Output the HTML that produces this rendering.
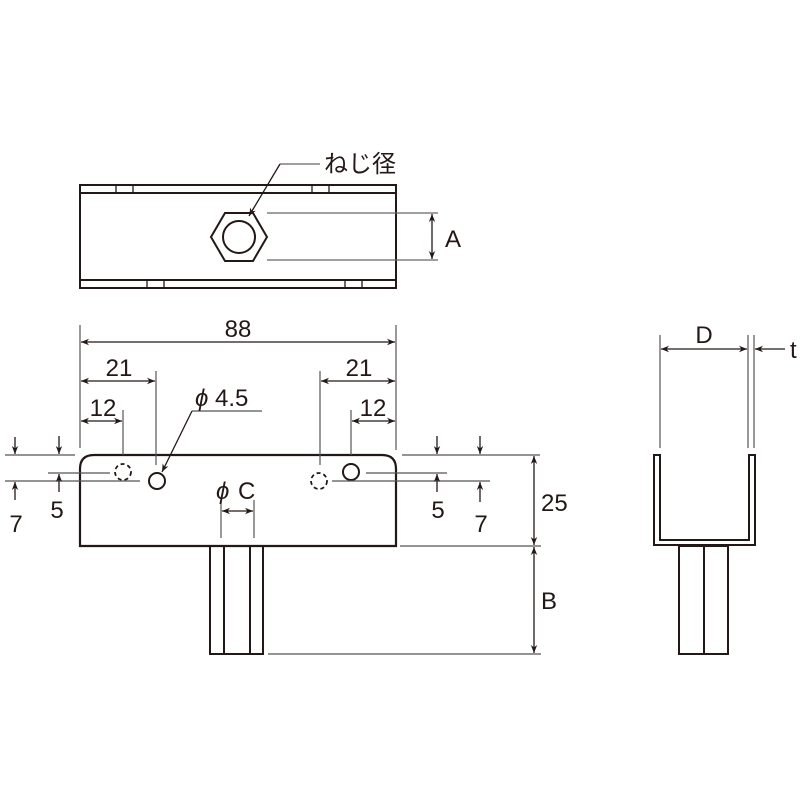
<!DOCTYPE html>
<html><head><meta charset="utf-8"><style>
html,body{margin:0;padding:0;background:#fff;}
svg{display:block;}
text{font-family:"Liberation Sans","Noto Sans CJK JP",sans-serif;fill:#231815;}
</style></head><body>
<svg width="808" height="808" viewBox="0 0 808 808" xmlns="http://www.w3.org/2000/svg">
<defs>
<marker id="a" viewBox="0 0 10 10" refX="10" refY="5" markerWidth="10" markerHeight="8" orient="auto-start-reverse" markerUnits="userSpaceOnUse"><path d="M0,1 L10,5 L0,9 L3,5 Z" fill="#231815"/></marker>
</defs>
<g fill="none" stroke="#231815">
<g stroke-width="2">
<rect x="80" y="185" width="316" height="103"/>
<line x1="80" y1="193" x2="396" y2="193"/>
<line x1="80" y1="280" x2="396" y2="280"/>
</g>
<g stroke-width="1.3">
<line x1="116" y1="185" x2="116" y2="193"/><line x1="133" y1="185" x2="133" y2="193"/>
<line x1="312" y1="185" x2="312" y2="193"/><line x1="329" y1="185" x2="329" y2="193"/>
<line x1="147" y1="280" x2="147" y2="288"/><line x1="164" y1="280" x2="164" y2="288"/>
<line x1="345" y1="280" x2="345" y2="288"/><line x1="362" y1="280" x2="362" y2="288"/>
</g>
<polygon points="211,237 225,213 253,213 267,237 253,261 225,261" stroke-width="2"/>
<circle cx="239" cy="237" r="16" stroke-width="2"/>
<g stroke="#666" stroke-width="1.3">
<line x1="267" y1="213" x2="438" y2="213"/>
<line x1="267" y1="260" x2="438" y2="260"/>
<polyline points="320,164 280,164"/>
</g>
<line x1="432" y1="214" x2="432" y2="259" stroke-width="1.3" marker-start="url(#a)" marker-end="url(#a)"/>
<line x1="280" y1="164" x2="249" y2="216" stroke-width="1.3" marker-end="url(#a)"/>

<path d="M80,546 L80,469 Q80,455 94,455 L382,455 Q396,455 396,469 L396,546 Z" stroke-width="2.2"/>
<rect x="210" y="546" width="53" height="108" stroke-width="2"/>
<line x1="224" y1="546" x2="224" y2="654" stroke-width="2"/>
<line x1="250" y1="546" x2="250" y2="654" stroke-width="2"/>
<circle cx="123" cy="472" r="8" stroke-width="1.8" stroke-dasharray="4,3"/>
<circle cx="157" cy="481" r="8" stroke-width="2"/>
<circle cx="319" cy="481" r="8" stroke-width="1.8" stroke-dasharray="4,3"/>
<circle cx="351" cy="472" r="8" stroke-width="2"/>
<g stroke="#555" stroke-width="1.2">
<line x1="80" y1="325" x2="80" y2="448"/>
<line x1="396" y1="325" x2="396" y2="450"/>
<line x1="156" y1="371" x2="156" y2="465"/>
<line x1="123" y1="410" x2="123" y2="455"/>
<line x1="320" y1="371" x2="320" y2="465"/>
<line x1="351" y1="410" x2="351" y2="455"/>
<line x1="5" y1="455" x2="75" y2="455"/>
<line x1="5" y1="481" x2="140" y2="481"/>
<line x1="48" y1="473" x2="110" y2="473"/>
<line x1="402" y1="455" x2="540" y2="455"/>
<line x1="332" y1="481" x2="490" y2="481"/>
<line x1="366" y1="473" x2="447" y2="473"/>
<line x1="400" y1="546" x2="541" y2="546"/>
<line x1="268" y1="654" x2="541" y2="654"/>
<line x1="221" y1="500" x2="221" y2="538"/>
<line x1="254" y1="500" x2="254" y2="538"/>
<polyline points="262,411 192,411"/>
</g>
<g stroke-width="1.3">
<line x1="81" y1="342" x2="395" y2="342" marker-start="url(#a)" marker-end="url(#a)"/>
<line x1="81" y1="381" x2="155" y2="381" marker-start="url(#a)" marker-end="url(#a)"/>
<line x1="321" y1="381" x2="395" y2="381" marker-start="url(#a)" marker-end="url(#a)"/>
<line x1="81" y1="421" x2="122" y2="421" marker-start="url(#a)" marker-end="url(#a)"/>
<line x1="352" y1="421" x2="395" y2="421" marker-start="url(#a)" marker-end="url(#a)"/>
<line x1="222" y1="511" x2="253" y2="511" marker-start="url(#a)" marker-end="url(#a)"/>
<line x1="192" y1="411" x2="162" y2="472" marker-end="url(#a)"/>
<line x1="15" y1="437" x2="15" y2="454" marker-end="url(#a)"/>
<line x1="15" y1="500" x2="15" y2="482" marker-end="url(#a)"/>
<line x1="59" y1="436" x2="59" y2="454" marker-end="url(#a)"/>
<line x1="59" y1="492" x2="59" y2="474" marker-end="url(#a)"/>
<line x1="437" y1="436" x2="437" y2="454" marker-end="url(#a)"/>
<line x1="437" y1="492" x2="437" y2="474" marker-end="url(#a)"/>
<line x1="480" y1="436" x2="480" y2="454" marker-end="url(#a)"/>
<line x1="480" y1="502" x2="480" y2="482" marker-end="url(#a)"/>
<line x1="534" y1="456" x2="534" y2="545" marker-start="url(#a)" marker-end="url(#a)"/>
<line x1="534" y1="547" x2="534" y2="653" marker-start="url(#a)" marker-end="url(#a)"/>
</g>

<path d="M654,455 L654,545 L755,545 L755,455 L749,455 L749,540 L660,540 L660,455 Z" stroke-width="2"/>
<rect x="679" y="546" width="49" height="108" stroke-width="2"/>
<line x1="704" y1="546" x2="704" y2="654" stroke-width="2"/>
<g stroke="#555" stroke-width="1.2">
<line x1="660" y1="335" x2="660" y2="448"/>
<line x1="748" y1="335" x2="748" y2="448"/>
<line x1="754" y1="335" x2="754" y2="448"/>
</g>
<g stroke-width="1.3">
<line x1="661" y1="349" x2="747" y2="349" marker-start="url(#a)" marker-end="url(#a)"/>
<line x1="785" y1="349" x2="755" y2="349" marker-end="url(#a)"/>
</g>
</g>
<g font-size="24">
<text x="324" y="172">ねじ径</text>
<text x="445" y="247">A</text>
<text x="238" y="337" text-anchor="middle">88</text>
<text x="119" y="376" text-anchor="middle">21</text>
<text x="359" y="376" text-anchor="middle">21</text>
<text x="103" y="416" text-anchor="middle">12</text>
<text x="373" y="416" text-anchor="middle">12</text>
<text x="195" y="406" font-style="italic">ϕ</text><text x="215" y="406">4.5</text>
<text x="216" y="499" font-style="italic">ϕ</text><text x="238" y="499">C</text>
<text x="16" y="532" text-anchor="middle">7</text>
<text x="57" y="518" text-anchor="middle">5</text>
<text x="438" y="518" text-anchor="middle">5</text>
<text x="481" y="532" text-anchor="middle">7</text>
<text x="541" y="511">25</text>
<text x="541" y="609">B</text>
<text x="704" y="343" text-anchor="middle">D</text>
<text x="790" y="358">t</text>
</g>
</svg>
</body></html>
